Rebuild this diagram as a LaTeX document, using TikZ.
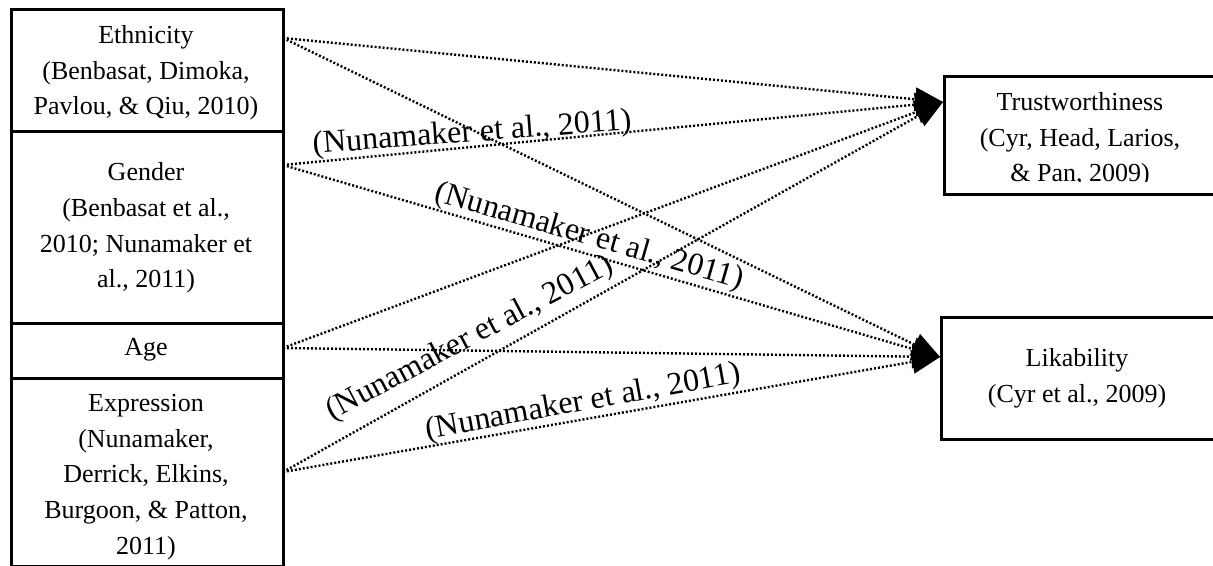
\documentclass[tikz,border=0pt]{standalone}
\usepackage{fontspec}
\setmainfont{Liberation Serif}
\usetikzlibrary{arrows.meta}
\begin{document}
\begin{tikzpicture}[x=0.5pt,y=-0.5pt,
  box/.style={draw,line width=1.5pt,inner sep=0pt,anchor=north west},
  txt/.style={align=center,inner sep=0pt,font=\fontsize{13}{17.8}\selectfont},
  link/.style={line width=1.2pt,dash pattern=on 1pt off 1pt,
    -{Triangle[length=14pt,width=12pt,line width=0pt]}},
  lab/.style={font=\fontsize{16}{18}\selectfont,inner sep=0pt}]
\useasboundingbox (0,0) rectangle (1213,566);
% left column
\node[box,minimum width=136pt,minimum height=61pt] (eth) at (10,8) {};
\node[txt] (etht) at (146,73) {Ethnicity\\(Benbasat, Dimoka,\\Pavlou, \& Qiu, 2010)};
\node[box,minimum width=136pt,minimum height=96pt] (gen) at (10,130) {};
\node[txt] (gent) at (146,228) {Gender\\(Benbasat et al.,\\2010; Nunamaker et\\al., 2011)};
\node[box,minimum width=136pt,minimum height=27.5pt] (age) at (10,322) {};
\node[txt] (aget) at (146,350) {Age};
\node[box,minimum width=136pt,minimum height=94pt] (exp) at (10,377) {};
\node[txt] (expt) at (146,477) {Expression\\(Nunamaker,\\Derrick, Elkins,\\Burgoon, \& Patton,\\2011)};
% right boxes
\node[box,minimum width=137pt,minimum height=59pt] (tru) at (943,75) {};
\begin{scope}
\clip (943,75) rectangle (1213,182);
\node[txt,anchor=north] (trut) at (1080,92)
  {Trustworthiness\\(Cyr, Head, Larios,\\\& Pan, 2009)};
\end{scope}
\node[box,minimum width=137pt,minimum height=61pt] (lik) at (940,316) {};
\node[txt] (likt) at (1077,378) {Likability\\(Cyr et al., 2009)};
% connector end points
\coordinate (ethp) at (283,38);
\coordinate (genp) at (283,165);
\coordinate (agep) at (283,348);
\coordinate (expp) at (283,472);
\coordinate (trup) at (943,102);
\coordinate (likp) at (940,357);
% connectors
\draw[link] (ethp) -- (trup);
\draw[link] (ethp) -- (likp);
\draw[link] (genp) -- (trup);
\draw[link] (genp) -- (likp);
\draw[link] (agep) -- (trup);
\draw[link] (agep) -- (likp);
\draw[link] (expp) -- (trup);
\draw[link] (expp) -- (likp);
% labels
\node[lab,rotate=4.3] (l1) at (472,134) {(Nunamaker et al., 2011)};
\node[lab,rotate=-16] (l2) at (589,237) {(Nunamaker et al., 2011)};
\node[lab,rotate=28] (l3) at (470,339) {(Nunamaker et al., 2011)};
\node[lab,rotate=10.3] (l4) at (583,403) {(Nunamaker et al., 2011)};
\end{tikzpicture}
\end{document}
